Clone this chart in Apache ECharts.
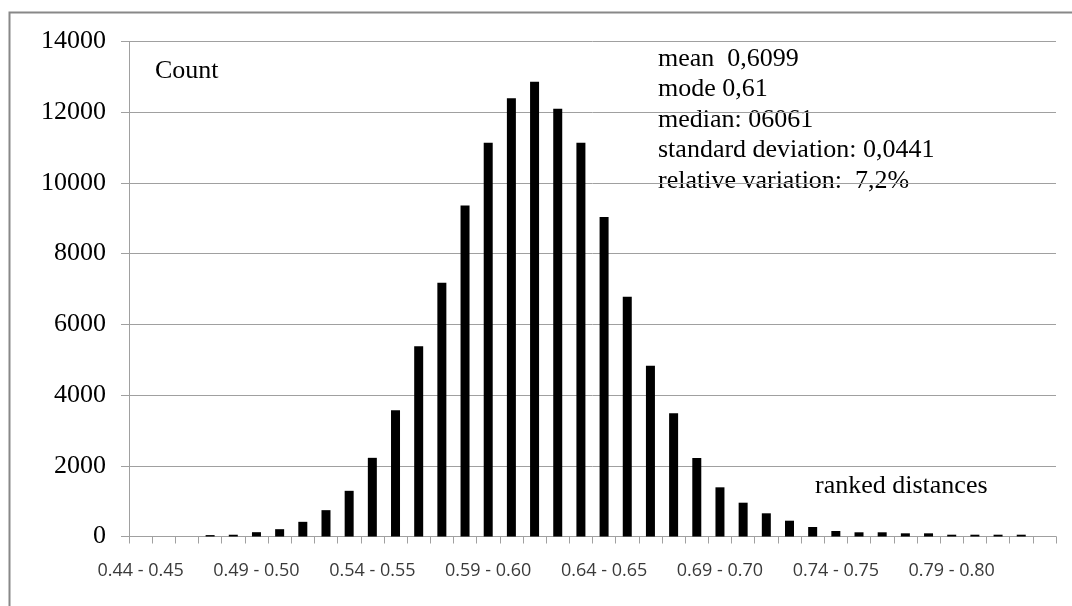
<!DOCTYPE html>
<html>
<head>
<meta charset="utf-8">
<script src="https://cdn.jsdelivr.net/npm/echarts@6/dist/echarts.min.js"></script>
<style>
  html, body { margin: 0; padding: 0; background: #fff; }
  #chart { width: 1072px; height: 606px; }
</style>
</head>
<body>
<div id="chart"></div>
<script>
// distance classes (x axis)
const categories = [
  '0.44 - 0.45', '0.45 - 0.46', '0.46 - 0.47', '0.47 - 0.48', '0.48 - 0.49',
  '0.49 - 0.50', '0.50 - 0.51', '0.51 - 0.52', '0.52 - 0.53', '0.53 - 0.54',
  '0.54 - 0.55', '0.55 - 0.56', '0.56 - 0.57', '0.57 - 0.58', '0.58 - 0.59',
  '0.59 - 0.60', '0.60 - 0.61', '0.61 - 0.62', '0.62 - 0.63', '0.63 - 0.64',
  '0.64 - 0.65', '0.65 - 0.66', '0.66 - 0.67', '0.67 - 0.68', '0.68 - 0.69',
  '0.69 - 0.70', '0.70 - 0.71', '0.71 - 0.72', '0.72 - 0.73', '0.73 - 0.74',
  '0.74 - 0.75', '0.75 - 0.76', '0.76 - 0.77', '0.77 - 0.78', '0.78 - 0.79',
  '0.79 - 0.80', '0.80 - 0.81', '0.81 - 0.82', '0.82 - 0.83', '0.83 - 0.84'
]

// counts per class
const counts = [
  0, 0, 0, 40, 50,
  122, 207, 415, 745, 1292,
  2225, 3573, 5380, 7178, 9360,
  11137, 12392, 12862, 12098, 11137,
  9035, 6782, 4830, 3484, 2220,
  1391, 956, 656, 447, 269,
  156, 119, 119, 90, 90,
  51, 51, 51, 51, 0
]

const yMax = 14000
const yStep = 2000

const statLines = [
  'mean  0,6099',
  'mode 0,61',
  'median: 06061',
  'standard deviation: 0,0441',
  'relative variation:  7,2%'
]

const serif = '"Liberation Serif", "DejaVu Serif", serif'
const gridColor = '#a0a0a0'

const chart = echarts.init(document.getElementById('chart'), null, { renderer: 'canvas' })

chart.setOption({
  animation: false,
  backgroundColor: '#fff',
  grid: {
    left: 129,
    right: 16,
    top: 41.5,
    bottom: 69.5,
    containLabel: false
  },
  xAxis: {
    type: 'category',
    data: categories,
    boundaryGap: true,
    axisLine: { show: true, lineStyle: { color: gridColor, width: 1 } },
    axisTick: { show: true, interval: 0, length: 7, lineStyle: { color: gridColor } },
    axisLabel: {
      interval: 4,
      margin: 25,
      color: '#3a3a3a',
      fontFamily: '"Open Sans", sans-serif',
      fontSize: 18
    },
    splitLine: { show: false }
  },
  yAxis: {
    type: 'value',
    min: 0,
    max: yMax,
    interval: yStep,
    axisLine: { show: true, lineStyle: { color: gridColor, width: 1 } },
    axisTick: { show: true, inside: false, length: 8, lineStyle: { color: gridColor } },
    axisLabel: {
      margin: 23,
      color: '#000',
      fontFamily: serif,
      fontSize: 26,
      formatter: v => String(v)
    },
    splitLine: { show: true, lineStyle: { color: gridColor, width: 1 } }
  },
  series: [{
    type: 'bar',
    data: counts,
    barWidth: 9,
    itemStyle: { color: '#000' }
  }],
  graphic: [
    {
      type: 'polyline',
      shape: { points: [[9.5, 606], [9.5, 12.5], [1072, 12.5]] },
      style: { stroke: '#888', lineWidth: 2, fill: null }
    },
    {
      type: 'text',
      style: {
        text: 'Count', x: 155, y: 71,
        font: '26px ' + serif, fill: '#000',
        verticalAlign: 'middle'
      }
    },
    {
      type: 'text',
      style: {
        text: statLines.join('\n'), x: 658, y: 43.5,
        font: '26px ' + serif, fill: '#000',
        lineHeight: 30.5, verticalAlign: 'top'
      }
    },
    {
      type: 'text',
      style: {
        text: 'ranked distances', x: 815, y: 486,
        font: '26px ' + serif, fill: '#000',
        verticalAlign: 'middle'
      }
    }
  ]
})
</script>
</body>
</html>
